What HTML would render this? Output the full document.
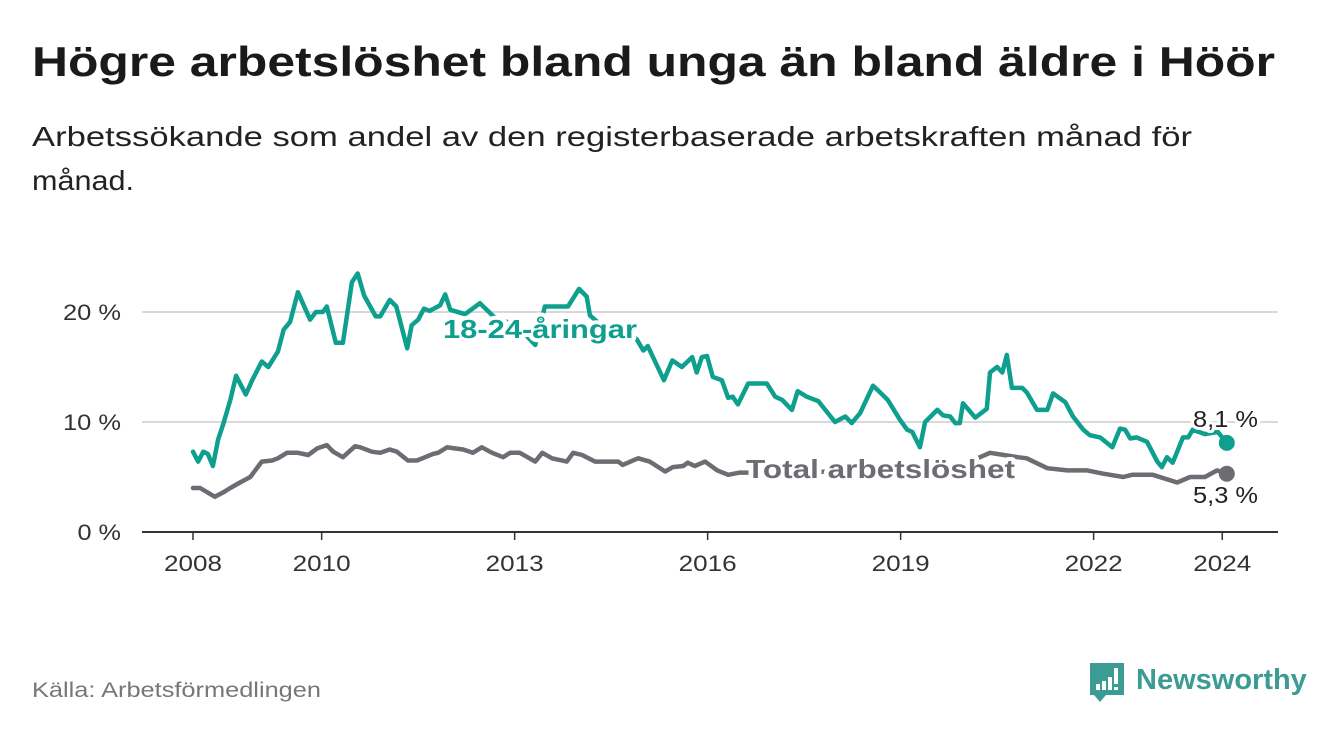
<!DOCTYPE html>
<html><head><meta charset="utf-8"><style>
html,body{margin:0;padding:0;background:#fff;width:1340px;height:734px;overflow:hidden;font-family:"Liberation Sans","DejaVu Sans",sans-serif}
svg text{font-family:"Liberation Sans","DejaVu Sans",sans-serif}
</style></head><body>
<svg width="1340" height="734" viewBox="0 0 1340 734" xmlns="http://www.w3.org/2000/svg" id="chart">
<text x="32" y="76" font-size="42" font-weight="bold" fill="#1a1a1a" textLength="1243" lengthAdjust="spacingAndGlyphs">Högre arbetslöshet bland unga än bland äldre i Höör</text>
<text x="32" y="146" font-size="28" fill="#222" textLength="1160" lengthAdjust="spacingAndGlyphs">Arbetssökande som andel av den registerbaserade arbetskraften månad för</text>
<text x="32" y="190" font-size="28" fill="#222" textLength="102" lengthAdjust="spacingAndGlyphs">månad.</text>
<g id="grid"></g>
<g id="yticks"></g>
<g id="xticks"></g>
<g id="series"></g>
<g id="labels"></g>
<text x="32" y="697" font-size="21" fill="#777" textLength="289" lengthAdjust="spacingAndGlyphs">Källa: Arbetsförmedlingen</text>
<g>
<path d="M1090 663 h34 v32 h-18 l-6 7 l-6 -7 h-4 z" fill="#3c9b93"/>
<rect x="1096" y="684" width="4" height="6" fill="#fff"/><rect x="1102" y="681" width="4" height="9" fill="#fff"/><rect x="1108" y="677" width="4" height="13" fill="#fff"/><rect x="1114" y="668" width="4" height="16" fill="#fff"/><rect x="1114" y="687" width="4" height="3" fill="#fff"/>
<text x="1136" y="689" font-size="29" font-weight="bold" fill="#3c9b93">Newsworthy</text>
</g>
</svg>
<script>
const yTicks=[0,10,20];
const xTickYears=[2008,2010,2013,2016,2019,2022,2024];
const youthT=[2008,2008.08,2008.16,2008.23,2008.31,2008.39,2008.47,2008.58,2008.67,2008.82,2008.92,2009.07,2009.17,2009.32,2009.41,2009.51,2009.63,2009.82,2009.91,2010.02,2010.08,2010.22,2010.33,2010.47,2010.56,2010.66,2010.84,2010.91,2011.06,2011.16,2011.33,2011.40,2011.50,2011.59,2011.68,2011.84,2011.92,2012.00,2012.23,2012.46,2012.69,2012.93,2013.16,2013.32,2013.47,2013.83,2014.00,2014.12,2014.17,2014.40,2014.64,2014.90,2015.00,2015.07,2015.32,2015.45,2015.60,2015.76,2015.83,2015.91,2015.99,2016.08,2016.22,2016.32,2016.39,2016.47,2016.63,2016.71,2016.92,2017.05,2017.16,2017.31,2017.40,2017.54,2017.72,2017.98,2018.14,2018.24,2018.37,2018.57,2018.68,2018.80,2018.99,2019.10,2019.18,2019.30,2019.38,2019.57,2019.66,2019.77,2019.85,2019.92,2019.97,2020.16,2020.34,2020.39,2020.50,2020.58,2020.65,2020.73,2020.89,2020.96,2021.12,2021.28,2021.37,2021.56,2021.68,2021.84,2021.94,2022.10,2022.29,2022.41,2022.49,2022.57,2022.67,2022.83,2022.99,2023.06,2023.14,2023.23,2023.39,2023.47,2023.54,2023.73,2023.93,2024.07];
const youthV=[7.3,6.4,7.3,7.1,6.0,8.4,9.8,12,14.2,12.5,13.8,15.5,15,16.4,18.4,19.1,21.8,19.3,20,20,20.5,17.2,17.2,22.7,23.5,21.5,19.6,19.6,21.1,20.5,16.7,18.8,19.3,20.3,20.1,20.6,21.6,20.2,19.8,20.8,19.5,19,18,17,20.5,20.5,22.1,21.4,19.7,18.5,18.6,17.5,16.5,16.9,13.8,15.6,15,15.9,14.5,15.9,16,14.1,13.8,12.2,12.3,11.6,13.5,13.5,13.5,12.3,12,11.1,12.8,12.3,11.9,10,10.5,9.9,10.8,13.3,12.7,12,10.2,9.3,9.1,7.7,10,11.1,10.6,10.5,9.9,9.9,11.7,10.4,11.2,14.5,15,14.5,16.1,13.1,13.1,12.7,11.1,11.1,12.6,11.8,10.5,9.3,8.8,8.6,7.7,9.4,9.3,8.5,8.6,8.2,6.4,5.9,6.8,6.3,8.6,8.6,9.3,8.9,9.1,8.1];
const totalT=[2008,2008.11,2008.34,2008.47,2008.58,2008.73,2008.89,2009.07,2009.23,2009.32,2009.46,2009.63,2009.79,2009.93,2010.08,2010.18,2010.33,2010.52,2010.60,2010.78,2010.91,2011.06,2011.17,2011.34,2011.48,2011.61,2011.73,2011.81,2011.95,2012.07,2012.20,2012.35,2012.49,2012.65,2012.82,2012.93,2013.08,2013.32,2013.43,2013.58,2013.81,2013.91,2014.05,2014.25,2014.61,2014.68,2014.92,2015.10,2015.34,2015.46,2015.62,2015.69,2015.80,2015.96,2016.15,2016.32,2016.50,2017.44,2018.37,2019.30,2019.92,2020.39,2020.82,2020.96,2021.28,2021.59,2021.90,2022.15,2022.46,2022.60,2022.92,2023.30,2023.50,2023.73,2023.92,2024.07];
const totalV=[4.0,4.0,3.2,3.6,4.0,4.5,5.0,6.4,6.5,6.7,7.2,7.2,7.0,7.6,7.9,7.3,6.8,7.8,7.7,7.3,7.2,7.5,7.3,6.5,6.5,6.8,7.1,7.2,7.7,7.6,7.5,7.2,7.7,7.2,6.8,7.2,7.2,6.4,7.2,6.7,6.4,7.2,7.0,6.4,6.4,6.1,6.7,6.4,5.5,5.9,6.0,6.3,6.0,6.4,5.6,5.2,5.4,5.4,5.6,5.8,6.0,7.2,6.8,6.7,5.8,5.6,5.6,5.3,5.0,5.2,5.2,4.5,5.0,5.0,5.6,5.3];
const NS='http://www.w3.org/2000/svg';
const X=t=>193+(t-2008)*64.33;
const Y=v=>532-11*v;
function el(tag,attrs,parent,txt){const e=document.createElementNS(NS,tag);for(const k in attrs)e.setAttribute(k,attrs[k]);if(txt!==undefined)e.textContent=txt;parent.appendChild(e);return e;}
const grid=document.getElementById('grid'),yt=document.getElementById('yticks'),xt=document.getElementById('xticks'),ser=document.getElementById('series'),lab=document.getElementById('labels');
yTicks.forEach(v=>{
  const l=el('line',{x1:142,x2:1278,y1:Y(v),y2:Y(v),stroke:v===0?'#333':'#d9d9d9','stroke-width':2},grid);
  
  
  const s=v+' %';
  const t=el('text',{x:121,y:Y(v)+8,'font-size':22,fill:'#333','text-anchor':'end',textLength:s.length*14.5,lengthAdjust:'spacingAndGlyphs'},yt,s);
  
  
});
xTickYears.forEach(yr=>{
  const tk=el('line',{x1:X(yr),x2:X(yr),y1:532,y2:540,stroke:'#333','stroke-width':1.5},xt);
  
  
  const t=el('text',{x:X(yr),y:571,'font-size':22,fill:'#333','text-anchor':'middle',textLength:58,lengthAdjust:'spacingAndGlyphs'},xt,String(yr));
  
  
});
function line(T,V,color,name){
  const d=T.map((t,i)=>(i?'L':'M')+X(t).toFixed(1)+' '+Y(V[i]).toFixed(1)).join(' ');
  const p=el('path',{d:d,fill:'none',stroke:color,'stroke-width':4.5,'stroke-linejoin':'round','stroke-linecap':'round'},ser);
  
  
  const n=T.length-1;
  const c=el('circle',{cx:X(T[n]),cy:Y(V[n]),r:8,fill:color},ser);
  
  
}
line(totalT,totalV,'#6d6c72','total');
line(youthT,youthV,'#0e9f8f','youth');
function label(x,y,txt,color,name,bold,w){
  const t=el('text',{x:x,y:y,'font-size':bold?26:23,'font-weight':bold?'bold':'normal',fill:color,stroke:'#fff','stroke-width':bold?8:6,'paint-order':'stroke','stroke-linejoin':'round',textLength:w,lengthAdjust:'spacingAndGlyphs'},lab,txt);
  
  
}
label(443,338,'18-24-åringar','#0e9f8f','youth-series-label',true,194);
label(746,478,'Total arbetslöshet','#6d6c72','total-series-label',true,269);
const n1=youthV.length-1,n2=totalV.length-1;
label(1193,427,String(youthV[n1]).replace('.',',')+' %','#222','youth-end-value',false,65);
label(1193,503,String(totalV[n2]).replace('.',',')+' %','#222','total-end-value',false,65);
</script>
</body></html>
